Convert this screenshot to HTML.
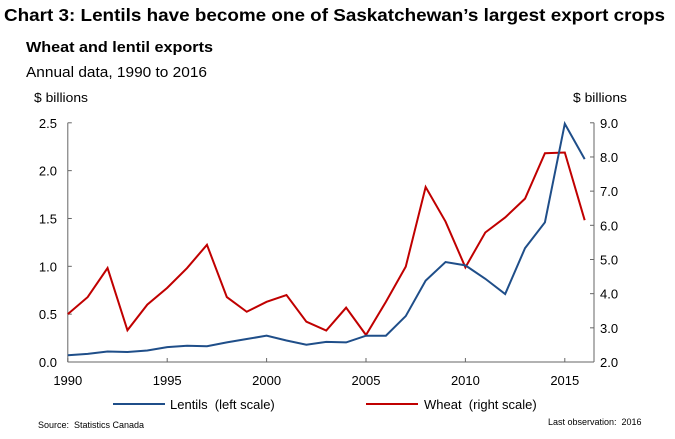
<!DOCTYPE html>
<html><head><meta charset="utf-8"><style>
body{margin:0;background:#fff;font-family:"Liberation Sans",Arial,sans-serif;}
svg{display:block}
text{font-family:"Liberation Sans",Arial,sans-serif;fill:#000;white-space:pre}
</style></head><body>
<svg id="c" width="675" height="439" xml:space="preserve">
<text x="4" y="21" font-size="17.5" font-weight="bold" textLength="661" lengthAdjust="spacingAndGlyphs">Chart 3: Lentils have become one of Saskatchewan’s largest export crops</text>
<text x="26" y="52" font-size="14.5" font-weight="bold" textLength="187" lengthAdjust="spacingAndGlyphs">Wheat and lentil exports</text>
<text x="26" y="77" font-size="14.5" textLength="181" lengthAdjust="spacingAndGlyphs">Annual data, 1990 to 2016</text>
<text x="34" y="102" font-size="13" textLength="54" lengthAdjust="spacingAndGlyphs">$ billions</text>
<text x="573" y="102" font-size="13" textLength="54" lengthAdjust="spacingAndGlyphs">$ billions</text>
<g id="axes"></g>
<g id="series"></g>
<line x1="113" y1="404" x2="165" y2="404" stroke="#1f4e89" stroke-width="2"/>
<text x="170" y="409" font-size="13">Lentils  (left scale)</text>
<line x1="366" y1="404" x2="418" y2="404" stroke="#c00000" stroke-width="2"/>
<text x="424" y="409" font-size="13">Wheat  (right scale)</text>
<text x="38" y="428" font-size="9">Source:  Statistics Canada</text>
<text x="548" y="425" font-size="9">Last observation:  2016</text>
</svg>
<script>
const years=[1990,1991,1992,1993,1994,1995,1996,1997,1998,1999,2000,2001,2002,2003,2004,2005,2006,2007,2008,2009,2010,2011,2012,2013,2014,2015,2016];
const lentils=[0.07,0.085,0.11,0.105,0.12,0.155,0.17,0.165,0.205,0.24,0.275,0.225,0.18,0.21,0.205,0.275,0.275,0.48,0.85,1.045,1.01,0.87,0.71,1.19,1.46,2.49,2.12];
const wheat=[3.40,3.90,4.75,2.93,3.68,4.17,4.75,5.43,3.90,3.47,3.76,3.96,3.18,2.92,3.59,2.79,3.76,4.79,7.12,6.11,4.77,5.79,6.23,6.78,8.11,8.13,6.15];
const leftTicks=[0,0.5,1.0,1.5,2.0,2.5];
const rightTicks=[2,3,4,5,6,7,8,9];
const xTicks=[1990,1995,2000,2005,2010,2015];
const NS="http://www.w3.org/2000/svg";
const X0=67.8,PX=19.88,Y0=362,YT=122.8,RX=594;
const xs=y=>X0+(y-1990)*PX;
const yl=v=>Y0-(v/2.5)*(Y0-YT);
const yr=v=>Y0-((v-2)/7)*(Y0-YT);
function mk(tag,at,parent){const e=document.createElementNS(NS,tag);for(const k in at)e.setAttribute(k,at[k]);parent.appendChild(e);return e;}
const ax=document.getElementById('axes'),sr=document.getElementById('series');
let e;
e=mk('line',{x1:X0,y1:YT,x2:X0,y2:Y0,stroke:'#666','stroke-width':1},ax);


e=mk('line',{x1:RX,y1:YT,x2:RX,y2:Y0,stroke:'#666','stroke-width':1},ax);


e=mk('line',{x1:X0,y1:Y0,x2:RX,y2:Y0,stroke:'#666','stroke-width':1},ax);


leftTicks.forEach(v=>{const y=yl(v);
mk('line',{x1:X0,y1:y,x2:X0+4,y2:y,stroke:'#666'},ax);
e=mk('text',{x:57,y:y+5,'font-size':13,'text-anchor':'end'},ax);e.textContent=v.toFixed(1);

});
rightTicks.forEach(v=>{const y=yr(v);
mk('line',{x1:RX-4,y1:y,x2:RX,y2:y,stroke:'#666'},ax);
e=mk('text',{x:600,y:y+5,'font-size':13},ax);e.textContent=v.toFixed(1);

});
xTicks.forEach(v=>{const x=xs(v);
mk('line',{x1:x,y1:Y0,x2:x,y2:Y0-4,stroke:'#666'},ax);
e=mk('text',{x:x,y:385,'font-size':13,'text-anchor':'middle'},ax);e.textContent=v;

});
e=mk('polyline',{points:years.map((y,i)=>xs(y)+','+yr(wheat[i])).join(' '),fill:'none',stroke:'#c00000','stroke-width':2},sr);


e=mk('polyline',{points:years.map((y,i)=>xs(y)+','+yl(lentils[i])).join(' '),fill:'none',stroke:'#1f4e89','stroke-width':2},sr);


</script>
</body></html>
